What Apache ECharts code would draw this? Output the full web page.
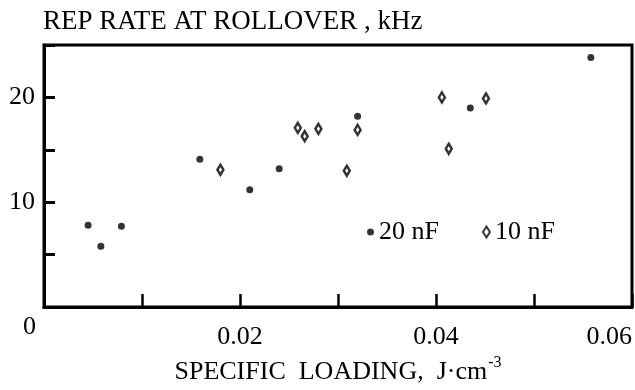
<!DOCTYPE html>
<html>
<head>
<meta charset="utf-8">
<script src="https://cdn.jsdelivr.net/npm/echarts@6/dist/echarts.min.js"></script>
<style>
  html, body { margin: 0; padding: 0; background: #fff; }
  #chart { width: 635px; height: 390px; }
</style>
</head>
<body>
<div id="chart"></div>
<script>
// ---- Data ----
const seriesNames = ['20 nF', '10 nF'];
const x20nF = [0.0045, 0.0058, 0.0079, 0.0159, 0.0210, 0.0240, 0.0320, 0.0435, 0.0558];
const y20nF = [7.8, 5.8, 7.7, 14.1, 11.2, 13.2, 18.2, 19.0, 23.8];
const x10nF = [0.0180, 0.0259, 0.0266, 0.0280, 0.0309, 0.0320, 0.0406, 0.0413, 0.0451];
const y10nF = [13.1, 17.1, 16.3, 17.0, 13.0, 16.9, 20.0, 15.1, 19.9];
const xTickLabels = ['0.02', '0.04', '0.06'];
const yTickLabels = ['10', '20'];
const originLabel = '0';
const titleText = 'REP RATE AT ROLLOVER , kHz';
const xNameMain = 'SPECIFIC  LOADING,  J\u00B7cm';
const xNameSup = '-3';

const FONT = 'Liberation Serif';
const pairs = (xs, ys) => xs.map((x, i) => [x, ys[i]]);

const chart = echarts.init(document.getElementById('chart'), null, { renderer: 'canvas' });

const option = {
  backgroundColor: '#ffffff',
  animation: false,
  title: {
    text: titleText,
    left: 43,
    top: 8,
    padding: 0,
    textStyle: { fontFamily: FONT, fontSize: 27, fontWeight: 'normal', color: '#000' }
  },
  grid: {
    left: 44, right: 3, top: 45, bottom: 76,
    show: true, borderWidth: 3, borderColor: '#000', backgroundColor: 'transparent'
  },
  legend: {
    left: 367, top: 219, padding: 0,
    itemWidth: 7, itemHeight: 11, itemGap: 43,
    selectedMode: false,
    data: seriesNames,
    textStyle: { fontFamily: FONT, fontSize: 26, color: '#000' }
  },
  xAxis: {
    type: 'value', min: 0, max: 0.06, interval: 0.01,
    splitLine: { show: false },
    axisLine: { show: true, lineStyle: { color: '#000', width: 3 } },
    axisTick: { show: true, inside: true, length: 13, lineStyle: { color: '#000', width: 2.5 } },
    axisLabel: {
      margin: 17, fontFamily: FONT, fontSize: 26, color: '#000',
      alignMaxLabel: 'right',
      formatter: function (v) {
        const s = v.toFixed(2);
        return xTickLabels.indexOf(s) >= 0 ? s : '';
      }
    },
    name: '{m|' + xNameMain + '}{s|' + xNameSup + '}',
    nameLocation: 'middle',
    nameGap: 45,
    nameTextStyle: {
      rich: {
        m: { fontFamily: FONT, fontSize: 26, color: '#000', lineHeight: 30, verticalAlign: 'bottom' },
        s: { fontFamily: FONT, fontSize: 16, color: '#000', lineHeight: 30, verticalAlign: 'top', padding: [0, 0, 12, 1] }
      }
    }
  },
  yAxis: {
    type: 'value', min: 0, max: 25, interval: 5,
    splitLine: { show: false },
    axisLine: { show: true, lineStyle: { color: '#000', width: 3 } },
    axisTick: { show: true, inside: true, length: 11, lineStyle: { color: '#000', width: 3 } },
    axisLabel: {
      margin: 9, fontFamily: FONT, fontSize: 26, color: '#000',
      formatter: function (v) {
        const s = String(v);
        return yTickLabels.indexOf(s) >= 0 ? s : '';
      }
    }
  },
  series: [
    {
      name: seriesNames[0],
      type: 'scatter',
      symbol: 'circle',
      symbolSize: 7,
      itemStyle: { color: '#000' },
      data: pairs(x20nF, y20nF)
    },
    {
      name: seriesNames[1],
      type: 'scatter',
      symbol: 'diamond',
      symbolSize: [6, 10],
      itemStyle: { color: '#fff', borderColor: '#000', borderWidth: 2.6 },
      data: pairs(x10nF, y10nF)
    }
  ]
};
chart.setOption(option);

// Shared "0" label at the origin, placed relative to the axes' origin
const o = chart.convertToPixel({ gridIndex: 0 }, [0, 0]);
chart.setOption({
  graphic: [{
    type: 'text',
    x: o[0] - 14.5,
    y: o[1] + 20,
    style: {
      text: originLabel,
      fontFamily: FONT, fontSize: 26, fill: '#000',
      textAlign: 'center', textVerticalAlign: 'middle'
    }
  }]
});
</script>
</body>
</html>
